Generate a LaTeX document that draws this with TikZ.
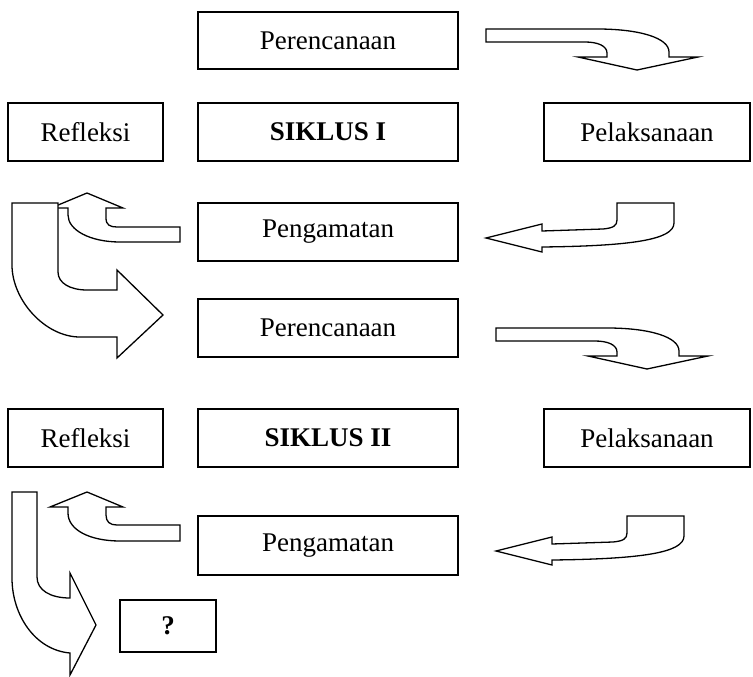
\documentclass[tikz,border=0pt]{standalone}
\usepackage{fontspec}
\setmainfont{Liberation Serif}
\begin{document}
\begin{tikzpicture}[x=1pt,y=-1pt,
  box/.style={draw,line width=1.6pt,inner sep=0pt,fill=white,font=\fontsize{27}{32}\selectfont},
  blk/.style={draw,line width=1.3pt,fill=white,line join=miter}]
\useasboundingbox (0,0) rectangle (753,677);
% boxes
\node[box,minimum width=260pt,minimum height=57pt] (per1) at (328,40.5) {Perencanaan};
\node[box,minimum width=155pt,minimum height=58pt] (ref1) at (85.5,132) {Refleksi};
\node[box,minimum width=260pt,minimum height=58pt] (sik1) at (328,132) {\textbf{SIKLUS I}};
\node[box,minimum width=206pt,minimum height=58pt] (pel1) at (647,132) {Pelaksanaan};
\node[box,minimum width=260pt,minimum height=58pt] (pen1) at (328,232) {Pengamatan};
\node[box,minimum width=260pt,minimum height=58pt] (per2) at (328,328) {Perencanaan};
\node[box,minimum width=155pt,minimum height=58pt] (ref2) at (85.5,438) {Refleksi};
\node[box,minimum width=260pt,minimum height=58pt] (sik2) at (328,438) {\textbf{SIKLUS II}};
\node[box,minimum width=206pt,minimum height=58pt] (pel2) at (647,438) {Pelaksanaan};
\node[box,minimum width=260pt,minimum height=59pt] (pen2) at (328,545.5) {Pengamatan};
\node[box,minimum width=96pt,minimum height=52pt] (q) at (168,626) {\textbf{?}};
% arrow Perencanaan -> Pelaksanaan (cycle I and II)
\foreach \dx/\dy in {0/0,10/299}{
\begin{scope}[shift={(\dx,\dy)}]
\draw[blk] (486,29) -- (597,29) .. controls (640,29) and (669,38) .. (669,52) -- (669,57)
  -- (698,57) -- (637,70) -- (578,57) -- (607,57) -- (607,53)
  .. controls (607,46) and (598,42) .. (585,42) -- (486,42) -- cycle;
\end{scope}}
% arrow Pelaksanaan -> Pengamatan
\foreach \dx/\dy in {0/0,10/313}{
\begin{scope}[shift={(\dx,\dy)}]
\draw[blk] (617,203) -- (674,203) -- (674,223) .. controls (674,240) and (630,246) .. (542,247)
  -- (542,252) -- (486,238) -- (542,224) -- (542,231) -- (603,229)
  .. controls (613,228) and (617,226) .. (617,220) -- cycle;
\end{scope}}
% arrow Pengamatan -> Refleksi (cycle I)
\draw[blk] (51,208) -- (87,193) -- (123,208) -- (106,208) -- (106,218)
  .. controls (106,225) and (110,227) .. (117,227) -- (180,227) -- (180,242) -- (120,242)
  .. controls (90,242) and (68,230) .. (68,215) -- (68,208) -- cycle;
% arrow Refleksi -> Perencanaan II
\draw[blk] (12,203) -- (58,203) -- (58,272) .. controls (58,283) and (70,290) .. (87,290)
  -- (117,290) -- (117,270) -- (163,315) -- (117,358) -- (117,337) -- (80,337)
  .. controls (45,337) and (12,300) .. (12,265) -- cycle;
% arrow Pengamatan -> Refleksi (cycle II)
\draw[blk] (50,507) -- (87,492) -- (123,507) -- (106,507) -- (106,515)
  .. controls (106,522) and (110,525) .. (117,525) -- (180,525) -- (180,541) -- (120,541)
  .. controls (90,541) and (68,530) .. (68,513) -- (68,507) -- cycle;
% arrow Refleksi -> ?
\draw[blk] (12,492) -- (37,492) -- (37,577) .. controls (37,590) and (50,598) .. (70,598)
  -- (70,573) -- (96,625) -- (70,675) -- (70,653)
  .. controls (35,650) and (12,615) .. (12,578) -- cycle;
\end{tikzpicture}
\end{document}
